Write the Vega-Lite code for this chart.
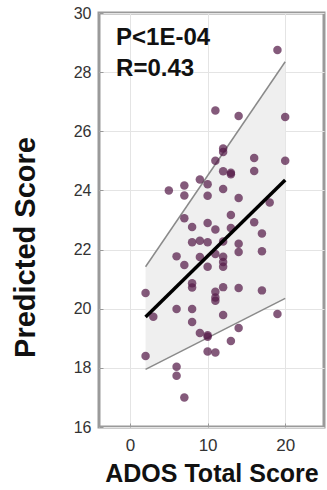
{
  "$schema": "https://vega.github.io/schema/vega-lite/v6.json",
  "width": 225,
  "height": 414,
  "autosize": {"type": "none"},
  "padding": {"left": 99, "top": 13, "right": 3, "bottom": 63},
  "background": "white",
  "config": {
    "view": {"stroke": "#9a9a9a", "strokeWidth": 3},
    "font": "Liberation Sans",
    "axis": {
      "domain": false,
      "grid": true,
      "gridColor": "#e4e4e4",
      "gridWidth": 1,
      "tickColor": "#9a9a9a",
      "tickSize": -4,
      "labelFont": "Liberation Sans",
      "labelColor": "#333333",
      "titleFont": "Liberation Sans",
      "titleFontWeight": "bold",
      "titleColor": "#111111"
    }
  },
  "datasets": {
    "subjects": [
      {"ados": 19, "pred": 28.75}, {"ados": 11, "pred": 26.7}, {"ados": 14, "pred": 26.52}, {"ados": 20, "pred": 26.48},
      {"ados": 12, "pred": 25.42}, {"ados": 12, "pred": 25.3}, {"ados": 11, "pred": 25.0}, {"ados": 16, "pred": 25.1},
      {"ados": 20, "pred": 25.0}, {"ados": 12, "pred": 24.65}, {"ados": 13, "pred": 24.6}, {"ados": 13, "pred": 24.55},
      {"ados": 16, "pred": 24.66}, {"ados": 5, "pred": 24.0}, {"ados": 7, "pred": 24.17}, {"ados": 7, "pred": 23.83},
      {"ados": 9, "pred": 24.37}, {"ados": 10, "pred": 24.21}, {"ados": 10, "pred": 23.82}, {"ados": 12, "pred": 24.05},
      {"ados": 14, "pred": 23.74}, {"ados": 18, "pred": 23.59}, {"ados": 13, "pred": 23.17}, {"ados": 7, "pred": 23.06},
      {"ados": 8, "pred": 22.76}, {"ados": 10, "pred": 22.9}, {"ados": 11, "pred": 22.68}, {"ados": 13, "pred": 22.73},
      {"ados": 16, "pred": 22.92}, {"ados": 17, "pred": 22.54}, {"ados": 8, "pred": 22.25}, {"ados": 9, "pred": 22.3},
      {"ados": 10, "pred": 22.25}, {"ados": 12, "pred": 22.27}, {"ados": 14, "pred": 22.2}, {"ados": 14, "pred": 21.92},
      {"ados": 17, "pred": 21.94}, {"ados": 6, "pred": 21.77}, {"ados": 9, "pred": 21.75}, {"ados": 11, "pred": 21.85},
      {"ados": 12, "pred": 21.76}, {"ados": 12, "pred": 21.58}, {"ados": 12, "pred": 21.42}, {"ados": 7, "pred": 21.48},
      {"ados": 10, "pred": 21.42}, {"ados": 2, "pred": 20.53}, {"ados": 8, "pred": 20.86}, {"ados": 8, "pred": 20.72},
      {"ados": 11, "pred": 20.57}, {"ados": 12, "pred": 20.73}, {"ados": 14, "pred": 20.7}, {"ados": 17, "pred": 20.62},
      {"ados": 11, "pred": 20.38}, {"ados": 11, "pred": 20.27}, {"ados": 3, "pred": 19.73}, {"ados": 6, "pred": 19.99},
      {"ados": 8, "pred": 19.99}, {"ados": 8, "pred": 19.55}, {"ados": 12, "pred": 19.79}, {"ados": 19, "pred": 19.82},
      {"ados": 14, "pred": 19.35}, {"ados": 9, "pred": 19.18}, {"ados": 10, "pred": 19.1}, {"ados": 10, "pred": 19.05},
      {"ados": 13, "pred": 18.91}, {"ados": 10, "pred": 18.55}, {"ados": 11, "pred": 18.52}, {"ados": 2, "pred": 18.4},
      {"ados": 6, "pred": 18.04}, {"ados": 6, "pred": 17.73}, {"ados": 7, "pred": 17.0}
    ],
    "fit": [
      {"ados": 2, "fit": 19.72, "lo": 17.95, "hi": 21.42},
      {"ados": 20, "fit": 24.35, "lo": 20.35, "hi": 28.35}
    ]
  },
  "layer": [
    {
      "data": {"name": "fit"},
      "mark": {"type": "area", "color": "#efefef", "opacity": 1},
      "encoding": {
        "x": {"field": "ados", "type": "quantitative",
          "scale": {"domain": [-4, 25], "nice": false, "zero": false},
          "axis": {"values": [0, 10, 20], "title": "ADOS Total Score", "titleFontSize": 25,
                   "labelFontSize": 17, "labelPadding": 14, "titlePadding": 8}},
        "y": {"field": "lo", "type": "quantitative",
          "scale": {"domain": [16, 30], "nice": false, "zero": false},
          "axis": {"values": [16, 18, 20, 22, 24, 26, 28, 30], "title": "Predicted Score", "titleFontSize": 29,
                   "labelFontSize": 16, "labelPadding": 12,
                   "titleX": -74, "titleY": 234, "titleBaseline": "middle"}},
        "y2": {"field": "hi"}
      }
    },
    {
      "data": {"name": "fit"},
      "mark": {"type": "line", "color": "#8a8a8a", "strokeWidth": 1.5},
      "encoding": {
        "x": {"field": "ados", "type": "quantitative"},
        "y": {"field": "hi", "type": "quantitative"}
      }
    },
    {
      "data": {"name": "fit"},
      "mark": {"type": "line", "color": "#8a8a8a", "strokeWidth": 1.5},
      "encoding": {
        "x": {"field": "ados", "type": "quantitative"},
        "y": {"field": "lo", "type": "quantitative"}
      }
    },
    {
      "data": {"name": "subjects"},
      "mark": {"type": "circle", "size": 72, "color": "#551a48", "opacity": 0.72},
      "encoding": {
        "x": {"field": "ados", "type": "quantitative"},
        "y": {"field": "pred", "type": "quantitative"}
      }
    },
    {
      "data": {"name": "fit"},
      "mark": {"type": "line", "color": "#000000", "strokeWidth": 3.5},
      "encoding": {
        "x": {"field": "ados", "type": "quantitative"},
        "y": {"field": "fit", "type": "quantitative"}
      }
    },
    {
      "data": {"values": [{"stats": ["P<1E-04", "R=0.43"]}]},
      "mark": {"type": "text", "align": "left", "baseline": "alphabetic", "font": "Liberation Sans",
               "fontWeight": "bold", "fontSize": 24, "lineHeight": 31, "color": "#111111"},
      "encoding": {
        "x": {"datum": -1.8, "type": "quantitative"},
        "y": {"datum": 28.92, "type": "quantitative"},
        "text": {"field": "stats"}
      }
    }
  ]
}
